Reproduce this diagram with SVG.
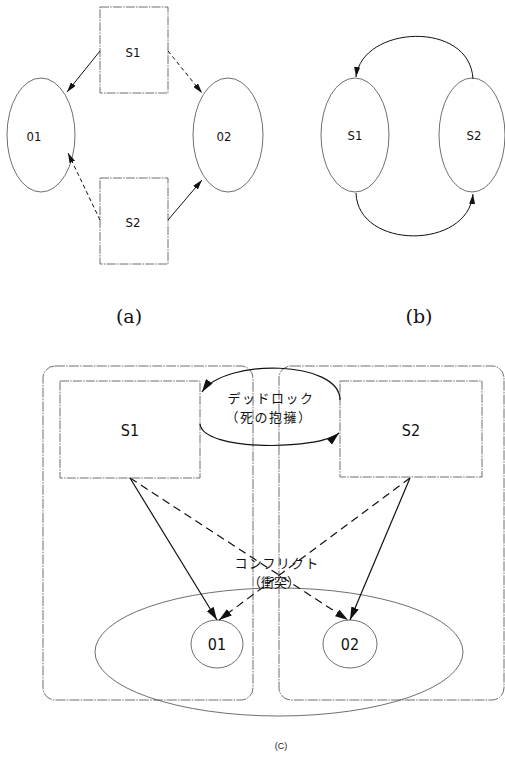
<svg xmlns="http://www.w3.org/2000/svg" width="505" height="757" viewBox="0 0 505 757">
  <style>
    .box { fill: none; stroke: #4a4a4a; stroke-width: 0.8; stroke-dasharray: 9 1.2 1.5 1.2; }
    .oval { fill: none; stroke: #4a4a4a; stroke-width: 0.8; }
    .region { fill: none; stroke: #4a4a4a; stroke-width: 0.8; stroke-dasharray: 10 1.2 1.5 1.2; }
    .lbl { font-family: "Liberation Sans Narrow", "DejaVu Sans Condensed", "Liberation Sans", sans-serif; font-size: 13px; fill: #111; text-anchor: middle; }
    .lblc { font-family: "Liberation Sans Narrow", "DejaVu Sans Condensed", "Liberation Sans", sans-serif; font-size: 16px; fill: #111; text-anchor: middle; }
    .cap { font-family: "DejaVu Serif", "Liberation Serif", serif; font-size: 19px; fill: #111; text-anchor: middle; }
    .capc { font-family: "Liberation Sans Narrow", "Liberation Sans", sans-serif; font-size: 9px; fill: #222; text-anchor: middle; }
    .jp { font-family: "Noto Sans CJK JP", "Noto Sans CJK SC", sans-serif; font-size: 13px; fill: #111; text-anchor: middle; }
    .solid { fill: none; stroke: #111; stroke-width: 1; }
    .dash { fill: none; stroke: #111; stroke-width: 1; stroke-dasharray: 4 3; }
    .solidc { fill: none; stroke: #111; stroke-width: 1.2; }
    .dashc { fill: none; stroke: #111; stroke-width: 1.2; stroke-dasharray: 8 5; }
  </style>
  <defs>
    <marker id="ah" markerUnits="userSpaceOnUse" markerWidth="10" markerHeight="6" refX="10" refY="3" orient="auto">
      <path d="M0,0 L10,3 L0,6 z" fill="#111"/>
    </marker>
    <marker id="ahc" markerUnits="userSpaceOnUse" markerWidth="13" markerHeight="8" refX="13" refY="4" orient="auto">
      <path d="M0,0 L13,4 L0,8 z" fill="#111"/>
    </marker>
  </defs>

  <rect width="505" height="757" fill="#fff"/>

  <!-- (a) subjects and objects -->
  <g id="a-S1"><rect class="box" x="100" y="7" width="68" height="86"/><text class="lbl" x="133" y="57">S1</text></g>
  <g id="a-S2"><rect class="box" x="100" y="178" width="68" height="86"/><text class="lbl" x="133" y="227">S2</text></g>
  <g id="a-O1"><ellipse class="oval" cx="41" cy="135" rx="34" ry="57"/><text class="lbl" x="34" y="141">01</text></g>
  <g id="a-O2"><ellipse class="oval" cx="228" cy="135" rx="35" ry="57"/><text class="lbl" x="224" y="141">02</text></g>

  <!-- (b) two processes -->
  <g id="b-S1"><ellipse class="oval" cx="355" cy="135" rx="34" ry="57"/><text class="lbl" x="355" y="140">S1</text></g>
  <g id="b-S2"><ellipse class="oval" cx="472" cy="135" rx="33" ry="57"/><text class="lbl" x="474" y="140">S2</text></g>

  <!-- (c) domains, subjects, objects -->
  <g id="c-region-left"><rect class="region" x="43" y="366" width="210" height="334" rx="12" ry="12"/></g>
  <g id="c-region-right"><rect class="region" x="279" y="366" width="225" height="334" rx="12" ry="12"/></g>
  <g id="c-objects"><ellipse class="oval" cx="279" cy="652" rx="184" ry="64"/></g>
  <g id="c-S1"><rect class="box" x="60" y="381" width="140" height="97"/><text class="lblc" x="130" y="436">S1</text></g>
  <g id="c-S2"><rect class="box" x="340" y="381" width="142" height="96"/><text class="lblc" x="411" y="436">S2</text></g>
  <g id="c-O1"><ellipse class="oval" cx="217" cy="644" rx="26" ry="24"/><text class="lblc" x="217" y="650">01</text></g>
  <g id="c-O2"><ellipse class="oval" cx="350" cy="644" rx="27" ry="24"/><text class="lblc" x="350" y="650">02</text></g>

  <!-- connectors -->
  <g id="connectors">
    <!-- (a) -->
    <line class="solid" x1="100" y1="51" x2="67" y2="92" marker-end="url(#ah)"/>
    <line class="dash" x1="168" y1="51" x2="202" y2="93" marker-end="url(#ah)"/>
    <line class="dash" x1="100" y1="220" x2="68" y2="153" marker-end="url(#ah)"/>
    <line class="solid" x1="168" y1="220" x2="202" y2="180" marker-end="url(#ah)"/>
    <!-- (b) -->
    <path class="solid" d="M473 79 C470 20 362 25 356 77" marker-end="url(#ah)"/>
    <path class="solid" d="M356 193 C358 250 468 250 473 194" marker-end="url(#ah)"/>
    <!-- (c) deadlock -->
    <path class="solidc" d="M340 400 C340 360 225 358 202 392" marker-end="url(#ahc)"/>
    <path class="solidc" d="M200 424 C203 452 320 450 339 433" marker-end="url(#ahc)"/>
    <!-- (c) conflict -->
    <line class="solidc" x1="130" y1="478" x2="217" y2="620" marker-end="url(#ahc)"/>
    <line class="dashc" x1="130" y1="478" x2="348" y2="620" marker-end="url(#ahc)"/>
    <line class="solidc" x1="410" y1="478" x2="350" y2="620" marker-end="url(#ahc)"/>
    <line class="dashc" x1="410" y1="478" x2="219" y2="620" marker-end="url(#ahc)"/>
    <text class="jp" x="271" y="403" letter-spacing="1.5">デッドロック</text>
    <text class="jp" x="269" y="422" letter-spacing="1.5">（死の抱擁）</text>
    <text class="jp" x="277" y="568" letter-spacing="1.2">コンフリクト</text>
    <text class="jp" x="274" y="587">（衝突）</text>
  </g>

  <!-- captions -->
  <text class="cap" x="129" y="323">(a)</text>
  <text class="cap" x="419" y="323">(b)</text>
  <text class="capc" x="281" y="749">(C)</text>
</svg>
